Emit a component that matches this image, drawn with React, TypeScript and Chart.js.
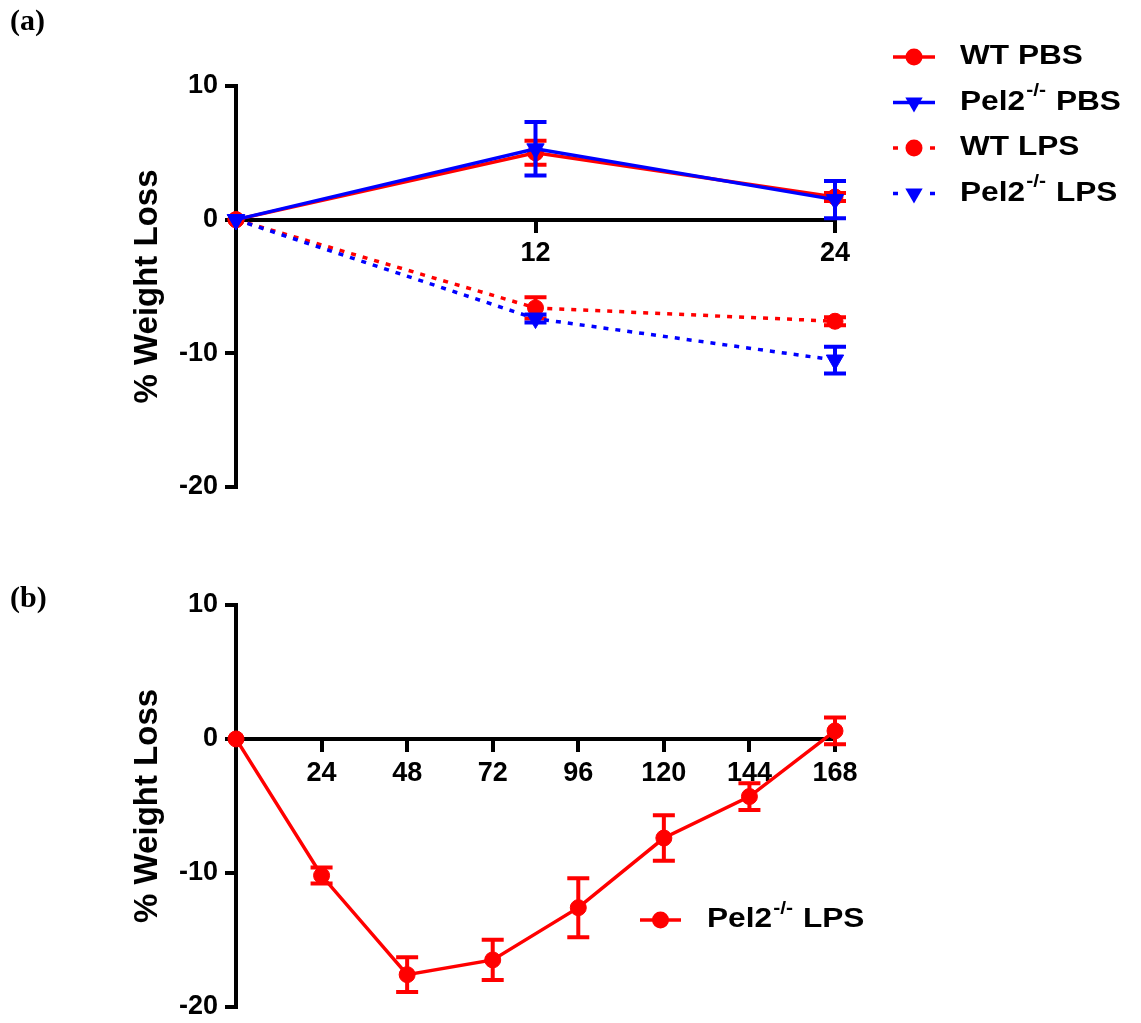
import React, { useEffect, useRef } from "react";
import { Chart, registerables } from "chart.js";

Chart.register(...registerables);

// ---------- data ----------
const hoursA = [0, 12, 24];
const wtPbsA = [0, 5.0, 1.7];
const wtPbsErrA = [0, 0.9, 0.3];
const pelPbsA = [0, 5.3, 1.5];
const pelPbsErrA = [0, 2.0, 1.4];
const wtLpsA = [0, -6.6, -7.6];
const wtLpsErrA = [0, 0.8, 0.3];
const pelLpsA = [0, -7.4, -10.5];
const pelLpsErrA = [0, 0.3, 1.0];
const labelsA = ["WT PBS", "Pel2-/- PBS", "WT LPS", "Pel2-/- LPS"];

const hoursB = [0, 24, 48, 72, 96, 120, 144, 168];
const pelLpsB = [0, -10.2, -17.6, -16.5, -12.6, -7.4, -4.3, 0.6];
const pelLpsErrB = [0, 0.6, 1.3, 1.5, 2.2, 1.7, 1.0, 1.0];
const labelB = "Pel2-/- LPS";

const yTicks = [-20, -10, 0, 10];
const xTicksA = [12, 24];
const xTicksB = [24, 48, 72, 96, 120, 144, 168];
const yTitle = "% Weight Loss";

const RED = "#ff0000";
const BLUE = "#0000ff";
const SANS = '"Liberation Sans", Arial, sans-serif';
const SERIF = '"Liberation Serif", "Times New Roman", serif';

// ---------- helpers ----------
function drawMarker(ctx: CanvasRenderingContext2D, style: string, x: number, y: number, r: number, color: string) {
  ctx.save();
  ctx.fillStyle = color;
  ctx.setLineDash([]);
  ctx.beginPath();
  if (style === "triangle") {
    for (let k = 0; k < 3; k++) {
      const a = Math.PI + (k * 2 * Math.PI) / 3;
      const px = x + Math.sin(a) * r;
      const py = y - Math.cos(a) * r;
      if (k === 0) ctx.moveTo(px, py);
      else ctx.lineTo(px, py);
    }
    ctx.closePath();
  } else {
    ctx.arc(x, y, r, 0, Math.PI * 2);
  }
  ctx.fill();
  ctx.restore();
}

function drawRichLabel(ctx: CanvasRenderingContext2D, text: string, x: number, y: number, size: number, sx: number) {
  const parts = text.split("-/-");
  ctx.save();
  ctx.translate(x, y);
  ctx.scale(sx, 1);
  ctx.fillStyle = "#000";
  ctx.textBaseline = "middle";
  ctx.textAlign = "left";
  const main = `bold ${size}px ${SANS}`;
  const sup = `bold ${Math.round(size * 0.66)}px ${SANS}`;
  let cx = 0;
  parts.forEach((p, i) => {
    if (i > 0) {
      ctx.font = sup;
      ctx.fillText("-/-", cx + 1, -size * 0.42);
      cx += ctx.measureText("-/-").width + 2;
    }
    ctx.font = main;
    ctx.fillText(p, cx, 0);
    cx += ctx.measureText(p).width;
  });
  ctx.restore();
}

const errorBarPlugin = {
  id: "errorBars",
  afterDatasetDraw(chart: any, args: any) {
    const ds = chart.data.datasets[args.index];
    const errs: number[] | undefined = ds.errors;
    if (!errs) return;
    const yScale = chart.scales.y;
    const ctx: CanvasRenderingContext2D = chart.ctx;
    ctx.save();
    ctx.strokeStyle = ds.borderColor;
    ctx.lineWidth = 4;
    ctx.setLineDash([]);
    args.meta.data.forEach((pt: any, i: number) => {
      const e = errs[i];
      if (!e) return;
      const v = ds.data[i].y;
      const top = yScale.getPixelForValue(v + e);
      const bot = yScale.getPixelForValue(v - e);
      const x = pt.x;
      ctx.beginPath();
      ctx.moveTo(x, top);
      ctx.lineTo(x, bot);
      ctx.moveTo(x - 11, top);
      ctx.lineTo(x + 11, top);
      ctx.moveTo(x - 11, bot);
      ctx.lineTo(x + 11, bot);
      ctx.stroke();
    });
    ctx.restore();
  },
};

type LegendItem = { label: string; color: string; style: string; dashed: boolean; r: number };

function makeLegendPlugin(items: LegendItem[], x0: number, x1: number, textX: number, y0: number, dy: number) {
  return {
    id: "customLegend",
    afterDraw(chart: any) {
      const ctx: CanvasRenderingContext2D = chart.ctx;
      items.forEach((it, i) => {
        const y = y0 + i * dy;
        ctx.save();
        ctx.strokeStyle = it.color;
        ctx.lineWidth = 3.5;
        ctx.setLineDash(it.dashed ? [5, x1 - x0 - 10] : []);
        ctx.beginPath();
        ctx.moveTo(x0, y);
        ctx.lineTo(x1, y);
        ctx.stroke();
        ctx.restore();
        drawMarker(ctx, it.style, (x0 + x1) / 2, y, it.r, it.color);
        drawRichLabel(ctx, it.label, textX, y, 27, 1.17);
      });
    },
  };
}

function makePanelLabel(text: string, x: number, y: number) {
  return {
    id: "panelLabel",
    afterDraw(chart: any) {
      const ctx: CanvasRenderingContext2D = chart.ctx;
      ctx.save();
      ctx.font = `bold 30px ${SERIF}`;
      ctx.fillStyle = "#000";
      ctx.textBaseline = "alphabetic";
      ctx.textAlign = "left";
      ctx.fillText(text, x, y);
      ctx.restore();
    },
  };
}

function series(xs: number[], ys: number[]) {
  return xs.map((x, i) => ({ x, y: ys[i] }));
}

function lineDs(label: string, xs: number[], ys: number[], errs: number[], color: string, style: string, dashed: boolean, order: number) {
  const tri = style === "triangle";
  return {
    label,
    data: series(xs, ys),
    errors: errs,
    borderColor: color,
    backgroundColor: color,
    borderWidth: 3.5,
    borderDash: dashed ? [5, 7] : [],
    pointStyle: style,
    pointRotation: tri ? 180 : 0,
    pointRadius: tri ? 10 : 8,
    pointBorderWidth: 1,
    pointBorderColor: color,
    pointBackgroundColor: color,
    tension: 0,
    clip: false,
    order,
  } as any;
}

function makeOptions(xMax: number, xTicks: number[], padding: any) {
  const tickFont = { family: SANS, size: 27, weight: "bold" as const };
  return {
    animation: false,
    responsive: false,
    maintainAspectRatio: false,
    layout: { padding },
    plugins: { legend: { display: false }, tooltip: { enabled: false } },
    scales: {
      x: {
        type: "linear",
        min: 0,
        max: xMax,
        position: { y: 0 },
        afterFit: (s: any) => {
          s.height = 0;
        },
        afterBuildTicks: (s: any) => {
          s.ticks = xTicks.map((v) => ({ value: v }));
        },
        grid: { display: true, drawOnChartArea: false, drawTicks: true, tickLength: 11, color: "#000", lineWidth: 4 },
        border: { display: true, color: "#000", width: 4 },
        ticks: { color: "#000", font: tickFont, padding: 7, maxRotation: 0, autoSkip: false },
      },
      y: {
        type: "linear",
        min: -20,
        max: 10,
        position: "left",
        afterFit: (s: any) => {
          s.width = 236;
        },
        afterBuildTicks: (s: any) => {
          s.ticks = yTicks.map((v) => ({ value: v }));
        },
        grid: { display: true, drawOnChartArea: false, drawTicks: true, tickLength: 11, color: "#000", lineWidth: 4 },
        border: { display: true, color: "#000", width: 4 },
        ticks: { color: "#000", font: tickFont, padding: 7, autoSkip: false },
        title: {
          display: true,
          text: yTitle,
          color: "#000",
          font: { family: SANS, size: 33, weight: "bold" },
          padding: { top: 128, bottom: 0 },
        },
      },
    },
  } as any;
}

export default function App() {
  const refA = useRef<HTMLCanvasElement | null>(null);
  const refB = useRef<HTMLCanvasElement | null>(null);

  useEffect(() => {
    const legendA = makeLegendPlugin(
      [
        { label: labelsA[0], color: RED, style: "circle", dashed: false, r: 8.5 },
        { label: labelsA[1], color: BLUE, style: "triangle", dashed: false, r: 10 },
        { label: labelsA[2], color: RED, style: "circle", dashed: true, r: 8.5 },
        { label: labelsA[3], color: BLUE, style: "triangle", dashed: true, r: 10 },
      ],
      893,
      935,
      960,
      57,
      45.5
    );
    const chartA = new Chart(refA.current as HTMLCanvasElement, {
      type: "line",
      data: {
        datasets: [
          lineDs(labelsA[0], hoursA, wtPbsA, wtPbsErrA, RED, "circle", false, 4),
          lineDs(labelsA[1], hoursA, pelPbsA, pelPbsErrA, BLUE, "triangle", false, 2),
          lineDs(labelsA[2], hoursA, wtLpsA, wtLpsErrA, RED, "circle", true, 3),
          lineDs(labelsA[3], hoursA, pelLpsA, pelLpsErrA, BLUE, "triangle", true, 1),
        ],
      },
      options: makeOptions(24, xTicksA, { left: 0, top: 86, right: 306, bottom: 43 }),
      plugins: [errorBarPlugin, legendA, makePanelLabel("(a)", 10, 30)],
    } as any);

    const legendB = makeLegendPlugin(
      [{ label: labelB, color: RED, style: "circle", dashed: false, r: 8.5 }],
      640,
      681,
      707,
      390,
      0
    );
    const chartB = new Chart(refB.current as HTMLCanvasElement, {
      type: "line",
      data: {
        datasets: [lineDs(labelB, hoursB, pelLpsB, pelLpsErrB, RED, "circle", false, 1)],
      },
      options: makeOptions(168, xTicksB, { left: 0, top: 75, right: 306, bottom: 16 }),
      plugins: [errorBarPlugin, legendB, makePanelLabel("(b)", 10, 77)],
    } as any);

    return () => {
      chartA.destroy();
      chartB.destroy();
    };
  }, []);

  return (
    <div
      style={{
        position: "absolute",
        left: 0,
        top: 0,
        width: 1141,
        height: 1023,
        background: "#fff",
        overflow: "hidden",
      }}
    >
      <canvas ref={refA} width={1141} height={530} style={{ position: "absolute", left: 0, top: 0, display: "block" }} />
      <canvas ref={refB} width={1141} height={500} style={{ position: "absolute", left: 0, top: 530, display: "block" }} />
    </div>
  );
}
